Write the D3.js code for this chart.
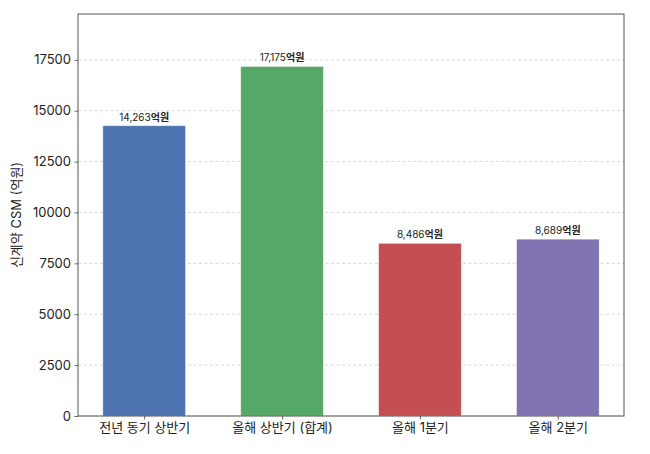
<!DOCTYPE html>
<html>
<head>
<meta charset="utf-8">
<script src="https://cdn.jsdelivr.net/npm/d3@7"></script>
<style>
  body { margin: 0; background: #fff; }
  text { font-family: Inter, "Noto Sans CJK KR", sans-serif; fill: #222; }
</style>
</head>
<body>
<svg width="650" height="454"></svg>
<script>
const categories = ["전년 동기 상반기", "올해 상반기 (합계)", "올해 1분기", "올해 2분기"];
const values = [14263, 17175, 8486, 8689];
const colors = ["#4C72B0", "#55A868", "#C44E52", "#8172B2"];
const yTicks = [0, 2500, 5000, 7500, 10000, 12500, 15000, 17500];

const svg = d3.select("svg");
const margin = { top: 14, right: 26, bottom: 38, left: 78 };
const width = 650 - margin.left - margin.right;
const height = 454 - margin.top - margin.bottom;

const g = svg.append("g")
    .attr("transform", `translate(${margin.left},${margin.top})`);

// x in data units like matplotlib: centers at 0..n-1, bar width 0.6
const x = d3.scaleLinear()
    .domain([-0.48, categories.length - 1 + 0.48])
    .range([0, width]);
const barW = 0.6;

const y = d3.scaleLinear()
    .domain([0, d3.max(values) * 1.15])
    .range([height, 0]);

// grid
g.selectAll(".grid")
    .data(yTicks)
    .enter()
    .append("line")
    .attr("x1", 0)
    .attr("x2", width)
    .attr("y1", d => y(d))
    .attr("y2", d => y(d))
    .attr("stroke", "#cfcfcf")
    .attr("stroke-width", 0.8)
    .attr("stroke-dasharray", "3,2.5");

// bars
g.selectAll(".bar")
    .data(values)
    .enter()
    .append("rect")
    .attr("class", "bar")
    .attr("x", (d, i) => x(i - barW / 2))
    .attr("width", x(barW) - x(0))
    .attr("y", d => y(d))
    .attr("height", d => height - y(d))
    .attr("fill", (d, i) => colors[i])
    .attr("stroke", "#ffffff")
    .attr("stroke-opacity", 0.6)
    .attr("stroke-width", 0.8);

// value labels
const labels = g.selectAll(".label")
    .data(values)
    .enter()
    .append("text")
    .attr("x", (d, i) => x(i))
    .attr("y", d => y(d) - 5)
    .attr("text-anchor", "middle")
    .attr("font-size", 10);
labels.append("tspan").text(d => d3.format(",")(d));
labels.append("tspan").attr("font-weight", "bold").text("억원");

// axes
const xAxis = g.append("g")
    .attr("transform", `translate(0,${height})`)
    .call(d3.axisBottom(x)
        .tickValues(d3.range(categories.length))
        .tickFormat(i => categories[i])
        .tickSize(3.5)
        .tickPadding(3.5));

const yAxis = g.append("g")
    .call(d3.axisLeft(y)
        .tickValues(yTicks)
        .tickFormat(d => d)
        .tickSize(3.5)
        .tickPadding(3.5));

[xAxis, yAxis].forEach(a => {
    a.select(".domain").remove();
    a.selectAll("line").attr("stroke", "#444").attr("stroke-width", 0.8);
    a.selectAll("text")
        .attr("fill", "#222")
        .style("font-family", 'Inter, "Noto Sans CJK KR", sans-serif')
        .attr("font-size", 13);
});

// frame
g.append("rect")
    .attr("width", width)
    .attr("height", height)
    .attr("fill", "none")
    .attr("stroke", "#555")
    .attr("stroke-width", 1);

// y label
svg.append("text")
    .attr("transform", `translate(21,${margin.top + height / 2}) rotate(-90)`)
    .attr("text-anchor", "middle")
    .attr("font-size", 13)
    .text("신계약 CSM (억원)");
</script>
</body>
</html>
